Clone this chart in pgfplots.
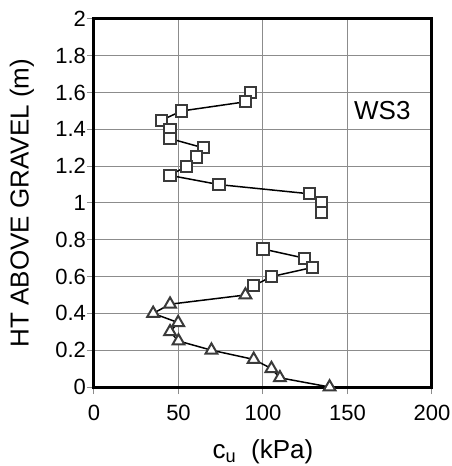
\documentclass[border=0pt]{standalone}
\usepackage{fontspec}
\setmainfont{Liberation Sans}
\usepackage{pgfplots}
\pgfplotsset{compat=1.18}
\definecolor{gridgray}{HTML}{8C8C8C}
\definecolor{markgray}{HTML}{3A3A3A}

% square profile, upper part
\pgfplotstableread{
x y
92.5 1.60
89.6 1.55
51.8 1.50
40.0 1.45
45.0 1.40
45.0 1.35
64.6 1.30
60.6 1.25
54.7 1.20
45.0 1.15
74.0 1.10
127.6 1.05
134.4 1.00
134.4 0.95
}\sqA
% square profile, lower part
\pgfplotstableread{
x y
100.0 0.75
124.6 0.70
129.5 0.65
105.0 0.60
94.5 0.55
}\sqB
% triangle profile
\pgfplotstableread{
x y
89.6 0.50
45.0 0.45
35.0 0.40
49.8 0.35
45.0 0.30
50.0 0.25
69.5 0.20
94.5 0.15
105.0 0.10
110.0 0.05
139.4 0.00
}\tri

\begin{document}
\begin{tikzpicture}
\begin{axis}[
    scale only axis,
    width=169pt, height=184pt,
    xmin=0, xmax=200, ymin=0, ymax=2,
    xtick={0,50,100,150,200},
    ytick={0,0.2,0.4,0.6,0.8,1,1.2,1.4,1.6,1.8,2},
    xtick pos=left, ytick pos=left,
    tick align=outside,
    major tick length=3.5pt,
    tick style={gridgray, line width=0.5pt},
    grid=major,
    major grid style={gridgray, line width=0.5pt},
    axis line style={black, line width=1.5pt},
    /pgf/number format/assume math mode=true,
    tick label style={font=\fontsize{11}{13}\selectfont},
    xticklabel style={yshift=-2pt},
    yticklabel style={xshift=3pt},
    xlabel={c\textsubscript{u}\ \ (kPa)},
    ylabel={HT ABOVE GRAVEL (m)},
    every axis x label/.style={at={(axis description cs:0.5,-0.177)}, anchor=center, font=\fontsize{13}{15}\selectfont},
    every axis y label/.style={at={(axis description cs:-0.213,0.5)}, anchor=center, rotate=90, font=\fontsize{13}{15}\selectfont},
    clip=false,
]
\addplot[black, line width=0.75pt, mark=square*, mark size=2.8pt,
    mark options={fill=white, draw=markgray, line width=1pt}] table {\sqA};
\addplot[black, line width=0.75pt, mark=square*, mark size=2.8pt,
    mark options={fill=white, draw=markgray, line width=1pt}] table {\sqB};
\addplot[black, line width=0.75pt, mark=triangle*, mark size=3.4pt,
    mark options={fill=white, draw=markgray, line width=1pt}] table {\tri};
\node[font=\fontsize{13}{15}\selectfont] at (axis cs:170.6,1.5) {WS3};
\end{axis}
\pgfresetboundingbox
\path (-47pt,-39.5pt) rectangle (178.5pt,193.5pt);
\end{tikzpicture}
\end{document}
